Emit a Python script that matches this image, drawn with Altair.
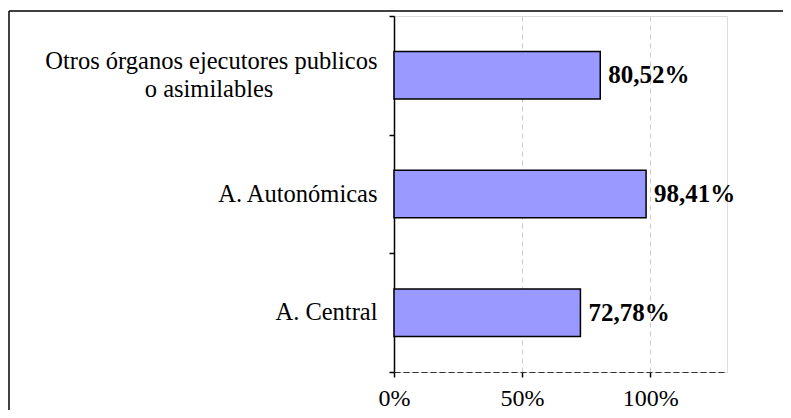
import altair as alt
import pandas as pd

categories = ["Otros órganos ejecutores publicos o asimilables", "A. Autonómicas", "A. Central"]
values = [80.52, 98.41, 72.78]
x_ticks = [0, 50, 100]

df = pd.DataFrame({"cat": categories, "value": values})

PAD = "\u00a0" * 17 + "\u200b"
label_expr = (
    "datum.value == '" + categories[0] + "' ? "
    "['Otros órganos ejecutores publicos', 'o asimilables" + PAD + "'] : datum.label"
)

FONT = "Liberation Serif"

y_scale = alt.Scale(paddingInner=0, paddingOuter=0)

y_enc = alt.Y(
    "cat:N",
    sort=categories,
    scale=y_scale,
    axis=alt.Axis(
        title=None,
        labelExpr=label_expr,
        labelFont=FONT,
        labelFontSize=24.5,
        labelColor="black",
        labelAlign="right",
        labelPadding=12,
        labelLineHeight=28,
        labelLimit=450,
        labelOffset={
            "condition": {"test": "datum.value == '" + categories[0] + "'", "value": -14},
            "value": 0,
        },
        tickBand="extent",
        tickSize=5,
        tickColor="black",
        tickWidth=1.5,
        domainColor="black",
        domainWidth=1.5,
        grid=False,
    ),
)

x_scale = alt.Scale(domain=[0, 130], nice=False)

bars = alt.Chart(df).mark_bar(
    color="#9999FF", stroke="black", strokeWidth=1.5, height={"band": 0.4}
).encode(
    x=alt.X(
        "value:Q",
        scale=x_scale,
        axis=alt.Axis(
            title=None,
            values=x_ticks,
            labelExpr="datum.value + '%'",
            labelFont=FONT,
            labelFontSize=24,
            labelColor="black",
            labelPadding=9,
            labelFlush=False,
            tickSize=5,
            tickColor="black",
            tickWidth=1.5,
            domainColor="#333333",
            domainWidth=1.2,
            domainDash=[6, 3],
            grid=True,
            gridColor="#c8c8c8",
            gridDash=[5, 4],
            gridWidth=1,
        ),
    ),
    y=y_enc,
)

texts = alt.Chart(df).transform_calculate(
    lab="replace(format(datum.value, '.2f'), '.', ',') + '%'"
).mark_text(
    align="left", baseline="middle", dx=8, font=FONT, fontSize=25, fontWeight="bold", color="black"
).encode(
    x=alt.X("value:Q", scale=x_scale),
    y=alt.Y("cat:N", sort=categories, scale=y_scale),
    text="lab:N",
)

frame_data = alt.Data(values=[{}])
frame_top = alt.Chart(frame_data).mark_rule(color="black", strokeWidth=1.5).encode(
    x=alt.value(-385), x2=alt.value(500), y=alt.value(-5)
)
frame_left = alt.Chart(frame_data).mark_rule(color="black", strokeWidth=1.5).encode(
    x=alt.value(-385), y=alt.value(-5), y2=alt.value(500)
)

chart = alt.layer(bars, texts, frame_top, frame_left).properties(
    width=333,
    height=356,
    autosize=alt.AutoSizeParams(type="none"),
    padding={"left": 386, "top": 8, "right": 56, "bottom": 38},
).configure_view(
    stroke="#707070", strokeDash=[6, 4], strokeWidth=1.2
).configure(background="white")

chart.save("out.html", embed_options={"renderer": "svg", "actions": False})
